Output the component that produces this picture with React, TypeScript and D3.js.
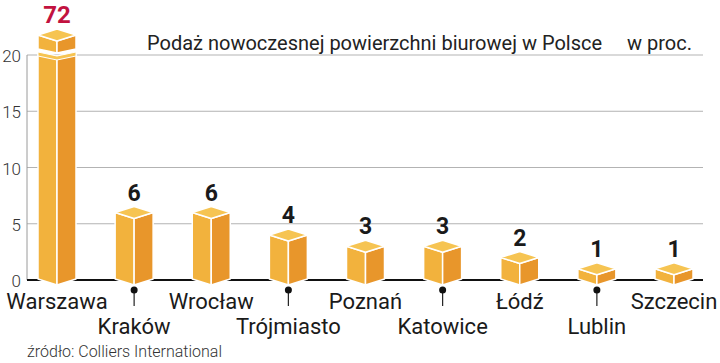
import React from "react";
import * as d3 from "d3";

// Podaż nowoczesnej powierzchni biurowej w Polsce, w proc.
const cities = ["Warszawa", "Kraków", "Wrocław", "Trójmiasto", "Poznań", "Katowice", "Łódź", "Lublin", "Szczecin"];
const shares = [72, 6, 6, 4, 3, 3, 2, 1, 1];
const yTicks = [0, 5, 10, 15, 20];
const title = "Podaż nowoczesnej powierzchni biurowej w Polsce";
const unit = "w proc.";
const source = "źródło: Colliers International";

const W = 720;
const H = 363;
const BAR_W = 38;
const D = 6; // depth of the top face

const colTop = "#F6C452";
const colLeft = "#F2B23D";
const colRight = "#E8962B";

function pts(p: number[][]) {
  return p.map((q) => q.join(",")).join(" ");
}

function Box({ xc, yTop, yBot }: { xc: number; yTop: number; yBot: number }) {
  const x0 = xc - BAR_W / 2;
  const x1 = xc + BAR_W / 2;
  return (
    <g stroke="#fff" strokeWidth={1.5} strokeLinejoin="round">
      <polygon points={pts([[x0, yTop], [xc, yTop + D], [xc, yBot + D], [x0, yBot]])} fill={colLeft} />
      <polygon points={pts([[xc, yTop + D], [x1, yTop], [x1, yBot], [xc, yBot + D]])} fill={colRight} />
      <polygon points={pts([[x0, yTop], [xc, yTop - D], [x1, yTop], [xc, yTop + D]])} fill={colTop} />
    </g>
  );
}

function BrokenBox({ xc, yTop, yBreak, yBot }: { xc: number; yTop: number; yBreak: number; yBot: number }) {
  const x0 = xc - BAR_W / 2;
  const x1 = xc + BAR_W / 2;
  const v = 4;
  const lo = yBreak + 3; // top of lower piece (sides)
  return (
    <g>
      {/* lower piece */}
      <g stroke="#fff" strokeWidth={1.5} strokeLinejoin="round">
        <polygon points={pts([[x0, lo], [xc, lo + v], [xc, yBot + D], [x0, yBot]])} fill={colLeft} />
        <polygon points={pts([[xc, lo + v], [x1, lo], [x1, yBot], [xc, yBot + D]])} fill={colRight} />
      </g>
      <polygon
        points={pts([[x0, lo], [xc, lo + v], [x1, lo], [x1, lo + 4], [xc, lo + v + 4], [x0, lo + 4]])}
        fill={colTop}
        stroke="#fff"
        strokeWidth={1}
      />
      {/* upper piece */}
      <g stroke="#fff" strokeWidth={1.5} strokeLinejoin="round">
        <polygon points={pts([[x0, yTop], [xc, yTop + D], [xc, yBreak + v], [x0, yBreak]])} fill={colLeft} />
        <polygon points={pts([[xc, yTop + D], [x1, yTop], [x1, yBreak], [xc, yBreak + v]])} fill={colRight} />
        <polygon points={pts([[x0, yTop], [xc, yTop - D], [x1, yTop], [xc, yTop + D]])} fill={colTop} />
      </g>
    </g>
  );
}

export default function App() {
  const x = d3.scalePoint<string>().domain(cities).range([57, 674]);
  const y = d3.scaleLinear().domain([0, 20]).range([280, 55]);
  const axisX = 27;
  const right = 703;
  const yMax = y.domain()[1];

  return (
    <svg
      width={W}
      height={H}
      style={{ position: "absolute", left: 0, top: 0, background: "#fff" }}
      fontFamily="Roboto, 'Open Sans', sans-serif"
    >
      {/* grid */}
      {yTicks
        .filter((t) => t > 0)
        .map((t) => (
          <line key={t} x1={axisX} x2={right} y1={y(t)} y2={y(t)} stroke="#b3b3b3" strokeWidth={1} />
        ))}
      <line x1={axisX} x2={axisX} y1={y(yMax)} y2={y(0)} stroke="#9a9a9a" strokeWidth={1} />
      {yTicks.map((t) => (
        <text key={t} x={21} y={y(t) + 7} textAnchor="end" fontSize={17} fontWeight={300} fill="#333">
          {t}
        </text>
      ))}
      <line x1={axisX} x2={right} y1={y(0)} y2={y(0)} stroke="#111" strokeWidth={2} />

      <text x={147} y={50} fontSize={20} fill="#222">
        {title}
      </text>
      <text x={627} y={50} fontSize={20} fill="#222">
        {unit}
      </text>

      {cities.map((c, i) => {
        const v = shares[i];
        const xc = x(c)!;
        const broken = v > yMax;
        const yTop = broken ? y(yMax) - 20 : y(v);
        const yBot = y(0) - 1;
        const row2 = i % 2 === 1;
        return (
          <g key={c}>
            {broken ? (
              <BrokenBox xc={xc} yTop={yTop} yBreak={y(yMax) - 6} yBot={yBot} />
            ) : (
              <Box xc={xc} yTop={yTop} yBot={yBot} />
            )}
            <text
              x={xc}
              y={yTop - D - 6}
              textAnchor="middle"
              fontSize={broken ? 24 : 23}
              fontWeight={700}
              fill={broken ? "#C2123F" : "#1a1a1a"}
            >
              {v}
            </text>
            {row2 && (
              <g>
                <line x1={xc} x2={xc} y1={290} y2={306} stroke="#222" strokeWidth={1.2} />
                <circle cx={xc} cy={290} r={3.5} fill="#111" />
              </g>
            )}
            <text x={xc} y={row2 ? 334 : 309} textAnchor="middle" fontSize={22} fill="#1a1a1a">
              {c}
            </text>
          </g>
        );
      })}

      <text x={27} y={357} fontSize={16} fontWeight={300} fill="#333">
        {source}
      </text>
    </svg>
  );
}
